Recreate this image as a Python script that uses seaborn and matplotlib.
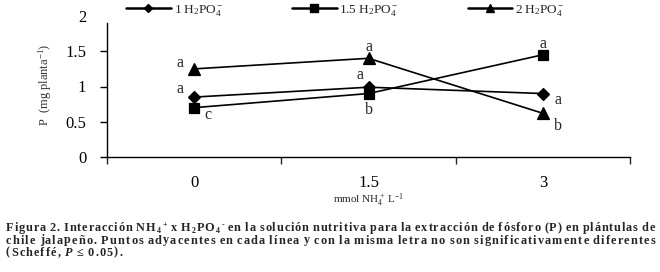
import numpy as np
import pandas as pd
import matplotlib
matplotlib.use("Agg")
import matplotlib.pyplot as plt
import seaborn as sns
from matplotlib.lines import Line2D

# ---------------- data ----------------
nh4_levels = ["0", "1.5", "3"]
series_keys = ["1", "1.5", "2"]
series_labels = [r"1 $\mathrm{H_2PO_4^-}$", r"1.5 $\mathrm{H_2PO_4^-}$", r"2 $\mathrm{H_2PO_4^-}$"]
p_h2po4_1 = [0.85, 0.99, 0.90]
p_h2po4_15 = [0.70, 0.90, 1.45]
p_h2po4_2 = [1.25, 1.40, 0.62]
letters_1 = ["a", "a", "a"]
letters_15 = ["c", "b", "a"]
letters_2 = ["a", "a", "b"]
y_ticks = [0, 0.5, 1, 1.5, 2]
y_tick_labels = ["0", "0.5", "1", "1.5", "2"]

# ---------------- style ----------------
sns.set_theme(style="ticks")
plt.rcParams["font.family"] = ["Liberation Serif", "DejaVu Serif"]
plt.rcParams["mathtext.fontset"] = "custom"
plt.rcParams["mathtext.rm"] = "Liberation Serif"
plt.rcParams["mathtext.it"] = "Liberation Serif:italic"
plt.rcParams["mathtext.bf"] = "Liberation Serif:bold"

df = pd.DataFrame({
    "nh4": nh4_levels * 3,
    "p": p_h2po4_1 + p_h2po4_15 + p_h2po4_2,
    "h2po4": [k for k in series_keys for _ in nh4_levels],
})

W, H = 660, 272
fig = plt.figure(figsize=(W / 100, H / 100), dpi=100)
ax_bottom_px, ax_top_px = 157, 16
ax = fig.add_axes([107 / W, 1 - ax_bottom_px / H, (630 - 107) / W, (ax_bottom_px - ax_top_px) / H])

markers = ["D", "s", "^"]
msizes = [6.0, 7.0, 8.0]
sns.pointplot(data=df, x="nh4", y="p", hue="h2po4", order=nh4_levels,
              hue_order=series_keys, markers=markers, linestyles="-",
              palette=["black"] * 3, errorbar=None, legend=False,
              linewidth=1.2, markersize=6.5, ax=ax)
for line, ms in zip(ax.lines, msizes):
    line.set_markersize(ms)

ax.set_xlim(-0.5, 2.5)
ax.set_ylim(0, 2)
ax.set_xticks(range(len(nh4_levels)), labels=nh4_levels)
ax.set_xticks([-0.5, 0.5, 1.5, 2.5], minor=True)
ax.tick_params(axis="x", which="major", length=0, pad=13, labelsize=12)
ax.tick_params(axis="x", which="minor", length=5, width=1, direction="out")
ax.set_yticks(y_ticks, labels=y_tick_labels)
ax.tick_params(axis="y", length=5, width=1, direction="out", labelsize=12, pad=10)
ax.yaxis.get_major_ticks()[-1].tick1line.set_visible(False)
for s in ["top", "right"]:
    ax.spines[s].set_visible(False)
ax.spines["left"].set_bounds(0, 1.9)
for s in ["left", "bottom"]:
    ax.spines[s].set_linewidth(1.0)
    ax.spines[s].set_color("black")
ax.tick_params(colors="black")

ax_h_px = ax_bottom_px - ax_top_px
ax.set_xlabel(r"mmol NH$_4^+$ L$^{-1}$", fontsize=8)
ax.xaxis.label.set_va("center")
ax.xaxis.set_label_coords(0.5, -(200 - ax_bottom_px) / ax_h_px)
ax.set_ylabel(r"P  (mg planta$^{-1}$)", fontsize=9, color="#333333")
ax.yaxis.label.set_va("center")
ax.yaxis.set_label_coords(-(107 - 45) / 523, 1 - (85 - ax_top_px) / ax_h_px)

# significance letters
letter_sets = [letters_1, letters_15, letters_2]
value_sets = [p_h2po4_1, p_h2po4_15, p_h2po4_2]
offsets = [  # (dx, dy) in points for each series, each level
    [(-10, 6), (-6, 8.5), (11, -5)],
    [(10, -5), (0, -12), (0, 8)],
    [(-10, 4), (0, 8), (11, -9.5)],
]
for letters, vals, offs in zip(letter_sets, value_sets, offsets):
    for i, (lt, v, (dx, dy)) in enumerate(zip(letters, vals, offs)):
        ax.annotate(lt, (i, v), xytext=(dx, dy), textcoords="offset points",
                    ha="center", va="center", fontsize=11.5)

# legend
handles = [Line2D([], [], color="black", marker=m, markersize=s, lw=1.8)
           for m, s in zip(markers, [4.0, 5.5, 5.5])]
fig.legend(handles, series_labels, loc="center left", bbox_to_anchor=(126 / W, 1 - 10 / H),
           ncol=3, frameon=False, fontsize=9.5, handlelength=3.4, handletextpad=0.2,
           columnspacing=5.2, borderaxespad=0, borderpad=0)

# ---------------- caption (justified, letter-spaced) ----------------
renderer = fig.canvas.get_renderer()
cap_fs = 8.8
small_fs = cap_fs * 0.65
N = "n"


def w_(s):
    return [(s, N)]


cap_lines = [
    [w_("Figura"), w_("2."), w_("Interacción"), [("NH", N), ("4", "sub"), ("+", "sup")], w_("x"),
     [("H", N), ("2", "sub"), ("PO", N), ("4", "sub"), ("-", "sup")], w_("en"), w_("la"),
     w_("solución"), w_("nutritiva"), w_("para"), w_("la"), w_("extracción"), w_("de"),
     w_("fósforo"), w_("(P)"), w_("en"), w_("plántulas"), w_("de")],
    [w_(s) for s in ["chile", "jalapeño.", "Puntos", "adyacentes", "en", "cada", "línea", "y",
                     "con", "la", "misma", "letra", "no", "son", "significativamente", "diferentes"]],
    [w_("(Scheffé,"), [("P", "i")], w_("≤"), w_("0.05).")],
]
justify = [True, True, False]
cap_y = [231, 243.5, 255.5]
x0, x1 = 6, 655
_cache = {}


def tw(s, kind=N):
    key = (s, kind)
    if key not in _cache:
        fs = small_fs if kind in ("sub", "sup") else cap_fs
        t = fig.text(0, 0, s, fontsize=fs, fontweight="bold",
                     fontstyle="italic" if kind == "i" else "normal")
        _cache[key] = t.get_window_extent(renderer).width
        t.remove()
    return _cache[key]


sp = tw("a a") - tw("aa")


def layout_word(segs):
    """Return list of (char, kind, natural_x) and natural width."""
    units = []
    cur = 0.0
    for s, kind in segs:
        if kind in ("sub", "sup"):
            x = cur + 0.6
            units.append((s, kind, x))
            cur = x + tw(s, kind)
        else:
            for k, ch in enumerate(s):
                x = cur + (tw(s[:k + 1], kind) - tw(ch, kind))
                units.append((ch, kind, x))
            cur = cur + tw(s, kind)
    return units, cur


last_e = 0.0
for words, just, yy in zip(cap_lines, justify, cap_y):
    laid = [layout_word(segs) for segs in words]
    n_gaps = sum(len(u) - 1 for u, _ in laid) + (len(words) - 1)
    natural = sum(wd for _, wd in laid) + sp * (len(words) - 1)
    e = (x1 - x0 - natural) / n_gaps if just else last_e
    last_e = e
    x = x0
    for units, wd in laid:
        for idx, (ch, kind, nx) in enumerate(units):
            dy = 2.0 if kind == "sub" else (-4.0 if kind == "sup" else 0.0)
            fs = small_fs if kind in ("sub", "sup") else cap_fs
            fig.text((x + nx + idx * e) / W, 1 - (yy + dy) / H, ch, fontsize=fs,
                     fontweight="bold", fontstyle="italic" if kind == "i" else "normal",
                     va="baseline", ha="left")
        x += wd + (len(units) - 1) * e + sp + e

fig.savefig("out.png", dpi=100)
